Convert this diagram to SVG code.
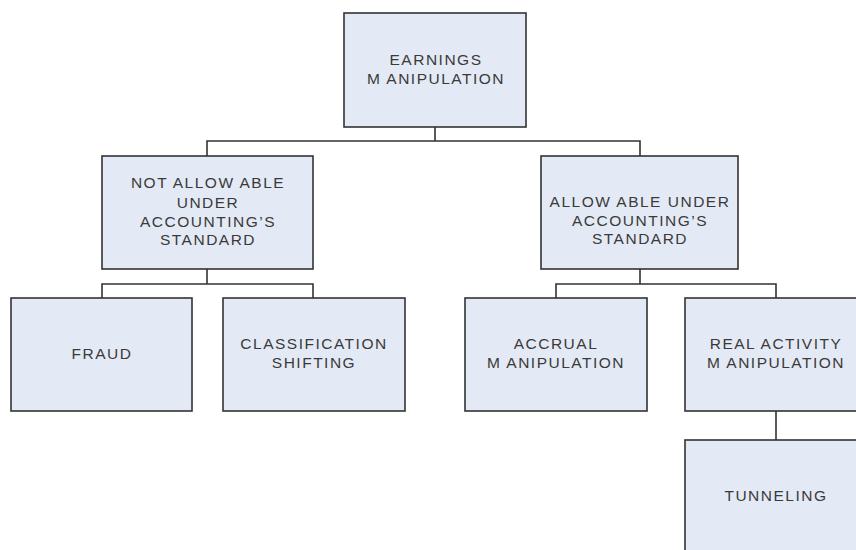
<svg xmlns="http://www.w3.org/2000/svg" width="856" height="550" viewBox="0 0 856 550">
<style>
.box{fill:#E4EAF5;stroke:#333333;stroke-width:1.6}
.lbl{font-family:"Liberation Sans",Arial,sans-serif;font-size:15.5px;letter-spacing:1.5px;fill:#3a3a3a;text-anchor:middle}
.conn{fill:none;stroke:#333333;stroke-width:1.6}
</style>
<rect width="856" height="550" fill="#ffffff"/>
<g id="connectors">
<path class="conn" d="M435,127 V141 M207,156 V141 H640 V156"/>
<path class="conn" d="M207,269 V284 M102,298 V284 H313 V298"/>
<path class="conn" d="M640,269 V284 M556,298 V284 H776 V298"/>
<path class="conn" d="M776,411 V440"/>
</g>
<g id="earnings">
<rect class="box" x="344" y="13" width="182" height="114"/>
<text class="lbl" x="436" y="65">EARNINGS</text>
<text class="lbl" x="436" y="84">M ANIPULATION</text>
</g>
<g id="not-allowable">
<rect class="box" x="102" y="156" width="211" height="113"/>
<text class="lbl" x="208" y="188">NOT ALLOW ABLE</text>
<text class="lbl" x="208" y="208">UNDER</text>
<text class="lbl" x="208" y="227">ACCOUNTING’S</text>
<text class="lbl" x="208" y="245">STANDARD</text>
</g>
<g id="allowable">
<rect class="box" x="541" y="156" width="197" height="113"/>
<text class="lbl" x="640" y="207">ALLOW ABLE UNDER</text>
<text class="lbl" x="640" y="226">ACCOUNTING’S</text>
<text class="lbl" x="640" y="244">STANDARD</text>
</g>
<g id="fraud">
<rect class="box" x="11" y="298" width="181" height="113"/>
<text class="lbl" x="102" y="359">FRAUD</text>
</g>
<g id="classification">
<rect class="box" x="223" y="298" width="182" height="113"/>
<text class="lbl" x="314" y="349">CLASSIFICATION</text>
<text class="lbl" x="314" y="368">SHIFTING</text>
</g>
<g id="accrual">
<rect class="box" x="465" y="298" width="182" height="113"/>
<text class="lbl" x="556" y="349">ACCRUAL</text>
<text class="lbl" x="556" y="368">M ANIPULATION</text>
</g>
<g id="real-activity">
<rect class="box" x="685" y="298" width="182" height="113"/>
<text class="lbl" x="776" y="349">REAL ACTIVITY</text>
<text class="lbl" x="776" y="368">M ANIPULATION</text>
</g>
<g id="tunneling">
<rect class="box" x="685" y="440" width="182" height="114"/>
<text class="lbl" x="776" y="501">TUNNELING</text>
</g>
</svg>
